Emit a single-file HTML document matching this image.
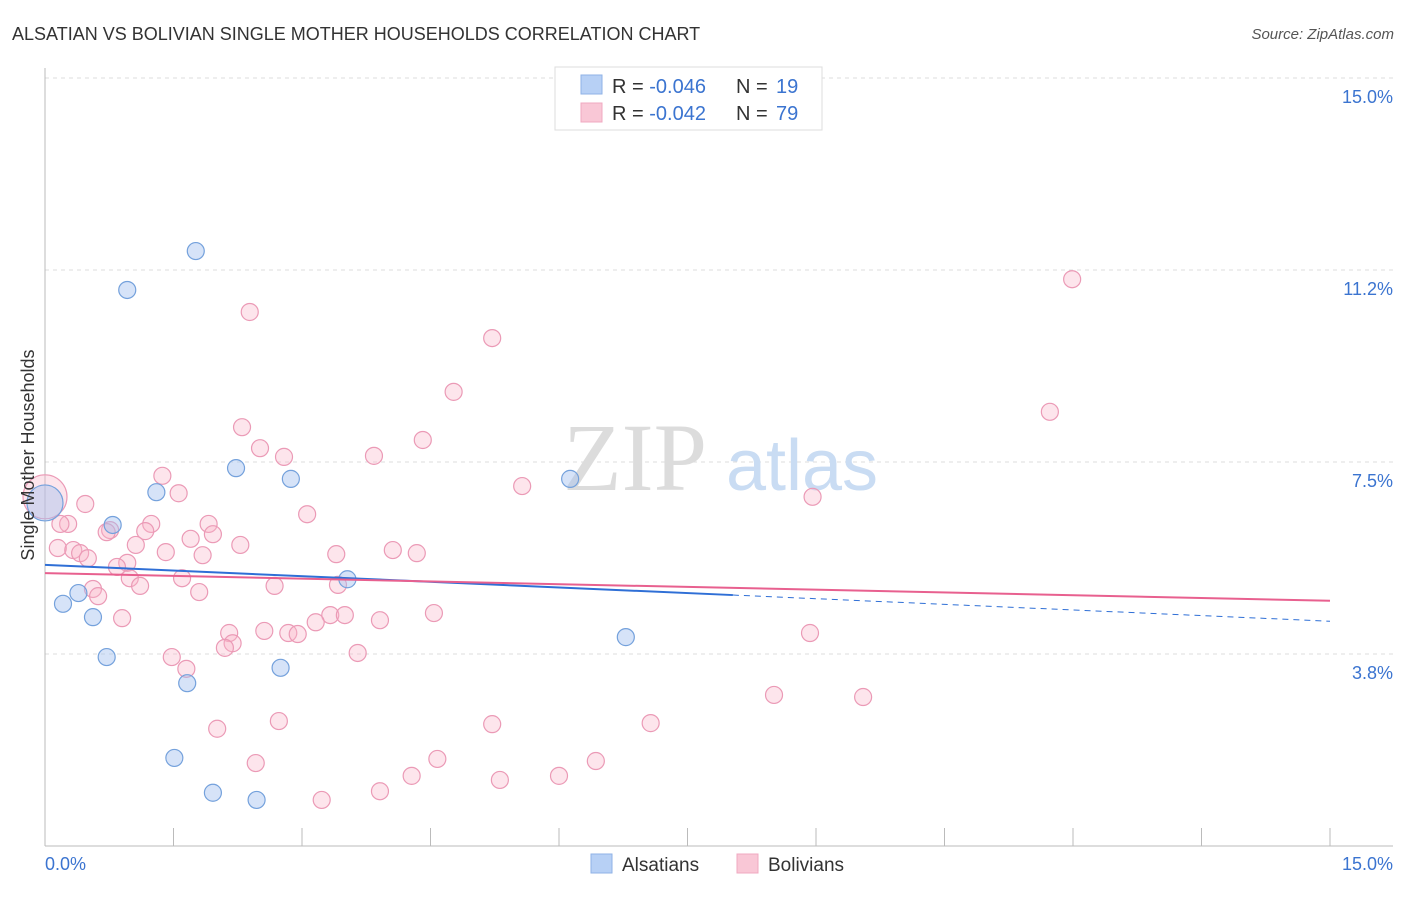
<!DOCTYPE html>
<html><head><meta charset="utf-8"><style>
body{margin:0;background:#fff;font-family:"Liberation Sans",sans-serif;}
svg text{font-family:"Liberation Sans",sans-serif;}
</style></head><body>
<svg id="chart" width="1406" height="892" xmlns="http://www.w3.org/2000/svg">
<text x="12" y="40" font-size="18" fill="#333">ALSATIAN VS BOLIVIAN SINGLE MOTHER HOUSEHOLDS CORRELATION CHART</text>
<text x="1394" y="39" font-size="15" fill="#555" font-style="italic" text-anchor="end">Source: ZipAtlas.com</text>
<g id="grid"></g>
<text x="635" y="490" font-size="96" fill="#dcdcdc" text-anchor="middle" style="font-family:'Liberation Serif',serif">ZIP</text>
<text x="802" y="490" font-size="72" fill="#c9dcf3" text-anchor="middle">atlas</text>
<g id="marks"></g>
<text transform="translate(34,455) rotate(-90)" font-size="18" fill="#333" text-anchor="middle">Single Mother Households</text>
<text x="45" y="870" font-size="18" fill="#3b74d0">0.0%</text>
<text x="1393" y="870" font-size="18" fill="#3b74d0" text-anchor="end">15.0%</text>
<g>
<rect x="555" y="67" width="267" height="63" fill="#fff" stroke="#ddd"/>
<rect x="581" y="75" width="21" height="19" fill="#b7d0f5" stroke="#8fb2e6"/>
<rect x="581" y="103" width="21" height="19" fill="#f9c7d6" stroke="#f0a8c0"/>
<text x="612" y="93" font-size="20" fill="#333">R = <tspan fill="#3b74d0">-0.046</tspan><tspan x="736">N = </tspan><tspan x="776" fill="#3b74d0">19</tspan></text>
<text x="612" y="120" font-size="20" fill="#333">R = <tspan fill="#3b74d0">-0.042</tspan><tspan x="736">N = </tspan><tspan x="776" fill="#3b74d0">79</tspan></text>
</g>
<g>
<rect x="591" y="854" width="21" height="19" fill="#b7d0f5" stroke="#8fb2e6"/>
<text x="622" y="871" font-size="19" fill="#333">Alsatians</text>
<rect x="737" y="854" width="21" height="19" fill="#f9c7d6" stroke="#f0a8c0"/>
<text x="768" y="871" font-size="19" fill="#333">Bolivians</text>
</g>
</svg>
<script>
const yTicks=[3.75,7.5,11.25,15];
const yTickLabels=["3.8%","7.5%","11.2%","15.0%"];
const xTicks=[0,1.5,3,4.5,6,7.5,9,10.5,12,13.5,15];
const alsX=[0,1.76,0.96,2.23,2.87,1.30,0.79,6.13,3.53,0.39,0.21,0.56,6.78,0.72,2.75,1.66,1.51,1.96,2.47];
const alsY=[6.70,11.62,10.86,7.38,7.17,6.91,6.27,7.17,5.21,4.94,4.73,4.47,4.08,3.69,3.48,3.18,1.72,1.04,0.90];
const bolX=[0,11.99,2.39,5.22,4.77,11.73,2.30,4.41,2.51,2.79,3.84,1.37,5.57,1.56,8.96,0.47,3.06,0.27,0.18,1.24,1.91,0.76,1.17,1.96,0.72,1.70,1.06,2.28,0.15,0.33,0.41,1.41,1.84,0.50,3.40,4.06,4.34,0.96,0.84,0.99,1.60,3.42,1.11,0.56,2.68,1.80,0.62,4.54,3.33,3.50,0.90,3.91,3.16,2.56,2.84,2.95,2.15,8.93,2.19,2.10,3.65,1.48,1.65,8.51,9.55,2.73,5.22,7.07,2.01,4.58,6.43,2.46,4.28,6.00,5.31,3.91,3.23];
const bolY=[6.82,11.07,10.43,9.92,8.87,8.48,8.18,7.93,7.77,7.60,7.62,7.23,7.03,6.89,6.82,6.68,6.48,6.29,6.29,6.29,6.29,6.17,6.15,6.09,6.13,6.00,5.88,5.88,5.82,5.78,5.72,5.74,5.68,5.62,5.70,5.78,5.72,5.53,5.45,5.23,5.23,5.10,5.08,5.02,5.08,4.96,4.88,4.55,4.51,4.51,4.45,4.41,4.37,4.20,4.16,4.14,4.16,4.16,3.96,3.87,3.77,3.69,3.46,2.95,2.91,2.44,2.38,2.40,2.29,1.70,1.66,1.62,1.37,1.37,1.29,1.07,0.90];
const alsTrend=[5.49,4.39];
const bolTrend=[5.33,4.79];
const alsSolidEnd=8.03;
const NS="http://www.w3.org/2000/svg";
const X=v=>45+v*(1285/15);
const Y=v=>78+(15-v)*51.2;
function mk(tag,attrs,parent){const e=document.createElementNS(NS,tag);for(const k in attrs)e.setAttribute(k,attrs[k]);parent.appendChild(e);return e;}
const grid=document.getElementById('grid');
const marks=document.getElementById('marks');
yTicks.forEach((t,i)=>{
  const l=mk('line',{x1:45,x2:1393,y1:Y(t),y2:Y(t),stroke:'#ddd','stroke-dasharray':'4,4'},grid);
  
  
  const tx=mk('text',{x:1393,y:Y(t)+25,'font-size':18,fill:'#3b74d0','text-anchor':'end'},grid);
  tx.textContent=yTickLabels[i];
  
  
});
const ax=mk('line',{x1:45,x2:45,y1:68,y2:846,stroke:'#bbb'},grid);


const bx=mk('line',{x1:45,x2:1393,y1:846,y2:846,stroke:'#bbb'},grid);


xTicks.forEach(t=>{
  const l=mk('line',{x1:X(t),x2:X(t),y1:828,y2:846,stroke:'#bbb'},grid);
  
  
});
function pts(xs,ys,fill,stroke,name,bigR){
  xs.forEach((x,i)=>{
    const r=i===0?bigR:8.5;
    const c=mk('circle',{cx:X(x),cy:Y(ys[i]),r:r,fill:fill,stroke:stroke,'stroke-width':1.2},marks);
    
    
  });
}
pts(bolX,bolY,'rgba(248,180,200,0.35)','#eb9ab6','bolivians-point',22);
pts(alsX,alsY,'rgba(164,194,240,0.45)','#74a1dc','alsatians-point',18);
const by=v=>alsTrend[0]+(alsTrend[1]-alsTrend[0])*v/15;
const l1=mk('line',{x1:X(0),y1:Y(alsTrend[0]),x2:X(alsSolidEnd),y2:Y(by(alsSolidEnd)),stroke:'#2f6fd6','stroke-width':2},marks);


const l2=mk('line',{x1:X(alsSolidEnd),y1:Y(by(alsSolidEnd)),x2:X(15),y2:Y(alsTrend[1]),stroke:'#2f6fd6','stroke-width':1,'stroke-dasharray':'6,5'},marks);


const l3=mk('line',{x1:X(0),y1:Y(bolTrend[0]),x2:X(15),y2:Y(bolTrend[1]),stroke:'#e8608f','stroke-width':2},marks);


</script>
</body></html>
